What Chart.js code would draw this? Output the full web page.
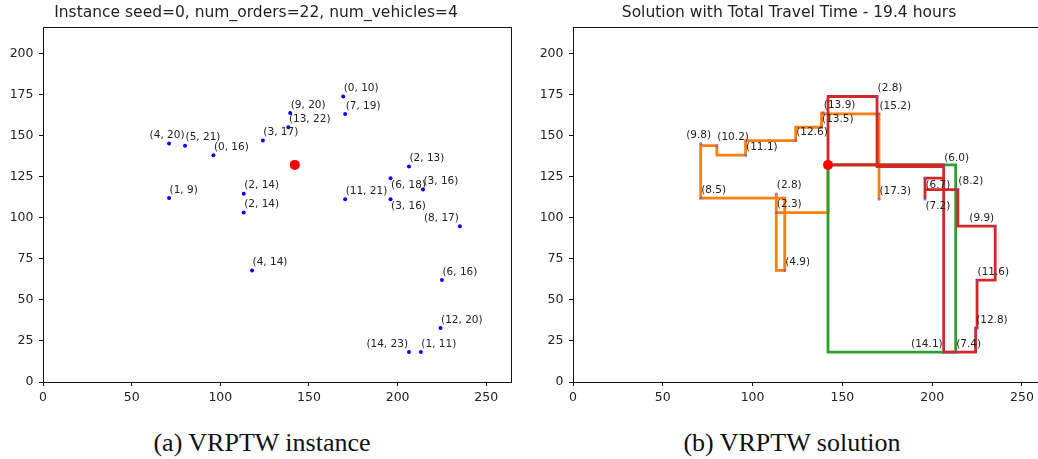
<!DOCTYPE html>
<html lang="en">
<head>
<meta charset="UTF-8" />
<title>VRPTW instance and solution</title>
<script src="https://cdn.jsdelivr.net/npm/chart.js"></script>
<style>
    body {
        margin: 0;
        width: 1038px;
        height: 459px;
        overflow: hidden;
        background: #fff;
        position: relative;
    }
    canvas { position: absolute; top: 0; }
    #left { left: 0; }
    #right { left: 530px; }
    .caption {
        position: absolute;
        top: 430px;
        width: 400px;
        text-align: center;
        font-family: "Liberation Serif", serif;
        font-size: 26px;
        line-height: 26px;
        color: #111;
    }
</style>
</head>
<body>
<canvas id="left" width="530" height="415"></canvas>
<canvas id="right" width="536" height="415"></canvas>
<div class="caption" style="left:62px">(a) VRPTW instance</div>
<div class="caption" style="left:592px">(b) VRPTW solution</div>
<script>
// customer locations and time windows
const custX = [71.1, 80.1, 96.1, 124.0, 138.4, 139.4, 169.3, 170.4, 206.4, 196.0, 214.3,
               196.0, 170.4, 71.1, 113.2, 113.2, 235.1, 117.9, 225.0, 224.2, 206.4, 213.1];
const custY = [145.1, 143.8, 138.0, 146.9, 155.0, 163.7, 173.7, 163.1, 131.1, 124.0, 117.1,
               111.2, 111.2, 111.9, 114.6, 103.1, 94.8, 67.9, 62.0, 32.8, 18.2, 18.2];
const twOpen  = [4, 5, 0, 3, 13, 9, 0, 7, 2, 6, 3, 3, 11, 1, 2, 2, 8, 4, 6, 12, 14, 1];
const twClose = [20, 21, 16, 17, 22, 20, 10, 19, 13, 18, 16, 16, 21, 9, 14, 14, 17, 14, 16, 20, 23, 11];
const depotX = 142.0;
const depotY = 132.1;

// routes (customer indices) and arrival times in hours
const routeOrange = [15, 14, 17, 13, 0, 1, 2, 3, 4, 5, 7, 12];
const timesOrange = [2.3, 2.8, 4.9, 8.5, 9.8, 10.2, 11.1, 12.6, 13.5, 13.9, 15.2, 17.3];
const routeGreen = [21];
const timesGreen = [7.4];
const routeRed = [6, 8, 9, 11, 10, 16, 18, 19, 20];
const timesRed = [2.8, 6.0, 6.7, 7.2, 8.2, 9.9, 11.6, 12.8, 14.1];
const totalHours = 19.4;

// where each label sits: l = above/left aligned, c = centered, r = right aligned, b = below
const labelSide = ["c", "l", "l", "l", "l", "l", "l", "l", "l", "b", "l",
                   "b", "l", "l", "l", "l", "r", "l", "l", "l", "r", "l"];

const xMax = 264.5;
const yMax = 216;

Chart.defaults.font.family = "DejaVu Sans";

const pointLabels = {
    id: "pointLabels",
    afterDatasetsDraw(chart, args, opts) {
        const ctx = chart.ctx;
        const xs = chart.scales.x;
        const ys = chart.scales.y;
        ctx.save();
        ctx.font = "10.5px 'DejaVu Sans'";
        ctx.fillStyle = "#222";
        ctx.textBaseline = "middle";
        opts.texts.forEach((t, i) => {
            const px = xs.getPixelForValue(custX[i]);
            const py = ys.getPixelForValue(custY[i]);
            const side = labelSide[i];
            ctx.textAlign = side === "r" ? "right" : side === "c" ? "center" : "left";
            const tx = side === "r" ? px - 1 : side === "c" ? px - 2 : px + 0.5;
            const ty = side === "b" ? py + 7 : py - 8;
            ctx.fillText(t, tx, ty);
        });
        ctx.restore();
    },
};

const frame = {
    id: "frame",
    afterDatasetsDraw(chart) {
        const a = chart.chartArea;
        const ctx = chart.ctx;
        ctx.save();
        ctx.strokeStyle = "#111";
        ctx.lineWidth = 1;
        ctx.strokeRect(Math.round(a.left) + 0.5, Math.round(a.top) + 0.5,
                       Math.round(a.right - a.left) - 1, Math.round(a.bottom - a.top));
        ctx.restore();
    },
};

function axis(isX) {
    return {
        type: "linear",
        min: 0,
        max: isX ? xMax : yMax,
        grid: { display: true, drawOnChartArea: false, drawTicks: true, tickLength: 4, color: "#111" },
        border: { display: false },
        ticks: {
            stepSize: isX ? 50 : 25,
            includeBounds: false,
            padding: isX ? 4.5 : 5.5,
            color: "#222",
            font: { family: "DejaVu Sans", size: 12.5 },
        },
        afterFit(scale) {
            if (isX) scale.height = 33;
            else scale.width = 43;
        },
    };
}

function titleOpts(text) {
    return {
        display: true,
        text: text,
        color: "#222",
        font: { family: "DejaVu Sans", size: 15.5, weight: "normal", lineHeight: 1 },
        padding: { top: 5.5, bottom: 6 },
    };
}

const customers = custX.map((x, i) => ({ x: x, y: custY[i] }));
const depot = [{ x: depotX, y: depotY }];

function routePath(route) {
    return [depot[0]].concat(route.map((i) => customers[i]), [depot[0]]);
}

// arrival time per customer
const arrival = [];
[[routeOrange, timesOrange], [routeGreen, timesGreen], [routeRed, timesRed]].forEach(([r, t]) => {
    r.forEach((c, k) => (arrival[c] = t[k]));
});

new Chart("left", {
    type: "scatter",
    data: {
        datasets: [
            { data: depot, backgroundColor: "#ff0000", borderWidth: 0, pointRadius: 5 },
            { data: customers, backgroundColor: "#0000ff", borderWidth: 0, pointRadius: 2 },
        ],
    },
    options: {
        responsive: false,
        animation: false,
        events: [],
        layout: { padding: { left: 0, right: 18, top: 0, bottom: 0 } },
        plugins: {
            legend: { display: false },
            tooltip: { enabled: false },
            title: titleOpts("Instance seed=0, num_orders=22, num_vehicles=4"),
            pointLabels: { texts: twOpen.map((o, i) => "(" + o + ", " + twClose[i] + ")") },
        },
        scales: { x: axis(true), y: axis(false) },
    },
    plugins: [pointLabels, frame],
});

const routeStyle = { showLine: true, borderWidth: 2.8, pointRadius: 0, stepped: "after", fill: false };

new Chart("right", {
    type: "scatter",
    data: {
        datasets: [
            { data: depot, backgroundColor: "#ff0000", borderWidth: 0, pointRadius: 5, order: 0 },
            { data: customers, backgroundColor: "rgba(80,80,255,0.6)", borderWidth: 0, pointRadius: 1.5, order: 1 },
            Object.assign({ data: routePath(routeRed), borderColor: "#d62728", order: 2 }, routeStyle),
            Object.assign({ data: routePath(routeGreen), borderColor: "#2ca02c", order: 3 }, routeStyle),
            Object.assign({ data: routePath(routeOrange), borderColor: "#ff7f0e", order: 4 }, routeStyle),
        ],
    },
    options: {
        responsive: false,
        animation: false,
        events: [],
        layout: { padding: { left: 0, right: 18, top: 0, bottom: 0 } },
        plugins: {
            legend: { display: false },
            tooltip: { enabled: false },
            title: titleOpts("Solution with Total Travel Time - " + totalHours + " hours"),
            pointLabels: { texts: arrival.map((t) => "(" + t.toFixed(1) + ")") },
        },
        scales: { x: axis(true), y: axis(false) },
    },
    plugins: [pointLabels, frame],
});
</script>
</body>
</html>
